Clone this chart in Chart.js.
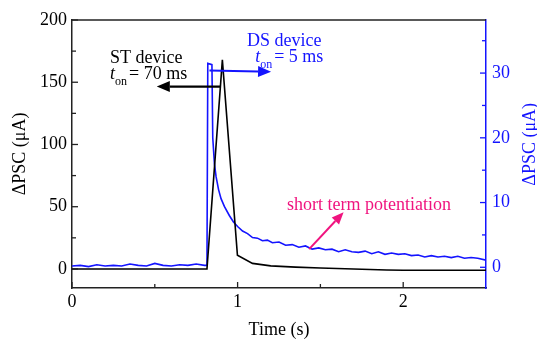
<!DOCTYPE html>
<html>
<head>
<meta charset="utf-8">
<script src="https://cdn.jsdelivr.net/npm/chart.js@4"></script>
<style>
  body { margin: 0; background: #fff; }
  #wrap { width: 537px; height: 339px; }
</style>
</head>
<body>
<div id="wrap"><canvas id="theChart" width="537" height="339"></canvas></div>
<script>
// ST device (left axis, µA)
const stTime = [0, 0.2, 0.4, 0.6, 0.815, 0.908, 0.999, 1.09, 1.2, 1.35, 1.5, 1.7, 1.9, 2.0, 2.2, 2.5];
const stCurrent = [0, 0, 0, 0, 0, 168, 11, 4.5, 2.5, 1.5, 0.8, 0, -0.8, -1, -1, -1];

// DS device (right axis, µA)
const dsTime = [0, 0.05, 0.1, 0.15, 0.2, 0.25, 0.3, 0.35, 0.4, 0.45, 0.5, 0.55, 0.6, 0.65, 0.7, 0.75, 0.8,
  0.815, 0.82, 0.845, 0.85, 0.86, 0.87, 0.885, 0.9, 0.92, 0.95, 0.975, 1.0, 1.03, 1.06, 1.09, 1.12, 1.15, 1.18, 1.21,
  1.25, 1.29, 1.33, 1.37, 1.41, 1.45, 1.49, 1.53, 1.57, 1.61, 1.65, 1.69, 1.73, 1.77, 1.81, 1.85, 1.89, 1.93, 1.97,
  2.01, 2.05, 2.09, 2.13, 2.17, 2.21, 2.25, 2.29, 2.33, 2.37, 2.41, 2.45, 2.5];
const dsCurrent = [0.2, 0.3, 0.1, 0.4, 0.2, 0.3, 0.2, 0.5, 0.3, 0.2, 0.6, 0.3, 0.2, 0.4, 0.3, 0.5, 0.3,
  0.3, 31.5, 31.3, 20, 16, 14, 12, 10.6, 9.4, 8.0, 7.0, 6.3, 5.6, 5.2, 4.6, 4.5, 4.1, 4.2, 3.8,
  3.9, 3.4, 3.5, 3.1, 3.3, 2.8, 3.0, 2.7, 2.8, 2.4, 2.7, 2.4, 2.3, 2.5, 2.1, 2.4, 2.0, 2.2, 2.0,
  2.1, 1.8, 1.9, 1.6, 1.8, 1.6, 1.7, 1.5, 1.7, 1.4, 1.5, 1.4, 1.1];

const xTicks = [0, 1, 2];
const xMinor = [0.5, 1.5];
const leftTicks = [0, 50, 100, 150, 200];
const leftMinor = [25, 75, 125, 175];
const rightTicks = [0, 10, 20, 30];
const rightMinor = [5, 15, 25, 35];

const serif = "'Liberation Serif', 'Times New Roman', serif";
const blue = "#1414ff";
const pink = "#f0147f";
const frame = "#222";

function zip(xs, ys) {
  return xs.map((x, i) => ({ x: x, y: ys[i] }));
}

function setTicks(values) {
  return function (scale) {
    scale.ticks = values.map(v => ({ value: v }));
  };
}

function arrow(ctx, x1, y1, x2, y2, color, width, headLen, headHalf) {
  const ang = Math.atan2(y2 - y1, x2 - x1);
  const bx = x2 - headLen * Math.cos(ang);
  const by = y2 - headLen * Math.sin(ang);
  ctx.strokeStyle = color;
  ctx.fillStyle = color;
  ctx.lineWidth = width;
  ctx.beginPath();
  ctx.moveTo(x1, y1);
  ctx.lineTo(bx, by);
  ctx.stroke();
  ctx.beginPath();
  ctx.moveTo(x2, y2);
  ctx.lineTo(bx + headHalf * Math.sin(ang), by - headHalf * Math.cos(ang));
  ctx.lineTo(bx - headHalf * Math.sin(ang), by + headHalf * Math.cos(ang));
  ctx.closePath();
  ctx.fill();
}

// t with "on" subscript followed by the rest of the line
function tOn(ctx, x, y, rest, color) {
  ctx.fillStyle = color;
  ctx.textBaseline = "alphabetic";
  ctx.textAlign = "left";
  ctx.font = "italic 18px " + serif;
  ctx.fillText("t", x, y);
  let w = ctx.measureText("t").width;
  ctx.font = "12px " + serif;
  ctx.fillText("on", x + w, y + 6);
  let w2 = ctx.measureText("on").width;
  ctx.font = "18px " + serif;
  ctx.fillText(rest, x + w + w2 + 2, y);
}

const extras = {
  id: "extras",
  afterDatasetsDraw(chart) {
    const ctx = chart.ctx;
    const xs = chart.scales.x, yl = chart.scales.y, yr = chart.scales.y1;
    const a = chart.chartArea;
    ctx.save();

    // top border
    ctx.strokeStyle = frame;
    ctx.lineWidth = 1.5;
    ctx.beginPath();
    ctx.moveTo(a.left, a.top);
    ctx.lineTo(a.right, a.top);
    ctx.stroke();

    // inward ticks
    function tick(x1, y1, x2, y2, color) {
      ctx.strokeStyle = color;
      ctx.lineWidth = 1.3;
      ctx.beginPath();
      ctx.moveTo(x1, y1);
      ctx.lineTo(x2, y2);
      ctx.stroke();
    }
    xTicks.forEach(v => { const p = xs.getPixelForValue(v); tick(p, a.bottom, p, a.bottom - 6, frame); });
    xMinor.forEach(v => { const p = xs.getPixelForValue(v); tick(p, a.bottom, p, a.bottom - 4, frame); });
    leftTicks.forEach(v => { const p = yl.getPixelForValue(v); tick(a.left, p, a.left + 6, p, frame); });
    leftMinor.forEach(v => { const p = yl.getPixelForValue(v); tick(a.left, p, a.left + 4, p, frame); });
    rightTicks.forEach(v => { const p = yr.getPixelForValue(v); tick(a.right, p, a.right - 6, p, blue); });
    rightMinor.forEach(v => { const p = yr.getPixelForValue(v); tick(a.right, p, a.right - 4, p, blue); });

    // right axis title, reading bottom to top
    ctx.save();
    ctx.translate(530, yr.getPixelForValue(19));
    ctx.rotate(-Math.PI / 2);
    ctx.font = "18px " + serif;
    ctx.fillStyle = blue;
    ctx.textAlign = "center";
    ctx.textBaseline = "middle";
    ctx.fillText("ΔPSC (μA)", 0, 0);
    ctx.restore();

    // arrows
    arrow(ctx, xs.getPixelForValue(0.894), yl.getPixelForValue(146.5),
      xs.getPixelForValue(0.512), yl.getPixelForValue(146.5), "#000", 2.2, 13, 5.5);
    arrow(ctx, xs.getPixelForValue(0.83), yr.getPixelForValue(30.4),
      xs.getPixelForValue(1.202), yr.getPixelForValue(30.2), blue, 2.2, 13, 5.5);
    arrow(ctx, xs.getPixelForValue(1.432), yr.getPixelForValue(2.8),
      xs.getPixelForValue(1.64), yr.getPixelForValue(8.5), pink, 2, 12, 5);

    // annotation texts
    ctx.textBaseline = "alphabetic";
    ctx.textAlign = "left";
    ctx.font = "18px " + serif;
    ctx.fillStyle = "#000";
    ctx.fillText("ST device", xs.getPixelForValue(0.23), yl.getPixelForValue(165.5));
    tOn(ctx, xs.getPixelForValue(0.23), yl.getPixelForValue(152.6), "= 70 ms", "#000");

    ctx.font = "18px " + serif;
    ctx.fillStyle = blue;
    ctx.fillText("DS device", xs.getPixelForValue(1.057), yr.getPixelForValue(34.2));
    tOn(ctx, xs.getPixelForValue(1.106), yr.getPixelForValue(31.7), "= 5 ms", blue);

    ctx.font = "18px " + serif;
    ctx.fillStyle = pink;
    ctx.fillText("short term potentiation", xs.getPixelForValue(1.299), yr.getPixelForValue(8.8));

    ctx.restore();
  }
};

const chart = new Chart(document.getElementById("theChart").getContext("2d"), {
  type: "scatter",
  data: {
    datasets: [
      {
        label: "ST device",
        data: zip(stTime, stCurrent),
        showLine: true,
        borderColor: "#000",
        borderWidth: 1.6,
        pointRadius: 0,
        tension: 0,
        yAxisID: "y",
        order: 0
      },
      {
        label: "DS device",
        data: zip(dsTime, dsCurrent),
        showLine: true,
        borderColor: blue,
        borderWidth: 1.6,
        pointRadius: 0,
        tension: 0,
        yAxisID: "y1",
        order: 1
      }
    ]
  },
  options: {
    responsive: false,
    animation: false,
    devicePixelRatio: 1,
    layout: { padding: { top: 20, left: 0, right: 0, bottom: 0 } },
    plugins: { legend: { display: false }, tooltip: { enabled: false } },
    scales: {
      x: {
        type: "linear",
        min: 0,
        max: 2.5,
        afterBuildTicks: setTicks(xTicks),
        afterFit: s => { s.height = 51; },
        grid: { display: true, drawOnChartArea: false, drawTicks: false },
        border: { display: true, color: frame, width: 1.5 },
        ticks: { color: "#000", font: { family: serif, size: 18 }, padding: 3, maxRotation: 0 },
        title: { display: true, text: "Time (s)", color: "#000", font: { family: serif, size: 18, lineHeight: 1 }, padding: 0 }
      },
      y: {
        position: "left",
        min: -15.3,
        max: 200,
        afterBuildTicks: setTicks(leftTicks),
        afterFit: s => { s.width = 72; },
        grid: { display: true, drawOnChartArea: false, drawTicks: false },
        border: { display: true, color: frame, width: 1.5 },
        ticks: { color: "#000", font: { family: serif, size: 18 }, padding: 5 },
        title: { display: true, text: "ΔPSC (μA)", color: "#000", font: { family: serif, size: 18, lineHeight: 1 }, padding: { top: 11, bottom: 0 } }
      },
      y1: {
        position: "right",
        min: -3.2,
        max: 38.2,
        afterBuildTicks: setTicks(rightTicks),
        afterFit: s => { s.width = 51; },
        grid: { display: true, drawOnChartArea: false, drawTicks: false },
        border: { display: true, color: blue, width: 1.5 },
        ticks: { color: blue, font: { family: serif, size: 18 }, padding: 6 },
        title: { display: false }
      }
    }
  },
  plugins: [extras]
});
</script>
</body>
</html>
